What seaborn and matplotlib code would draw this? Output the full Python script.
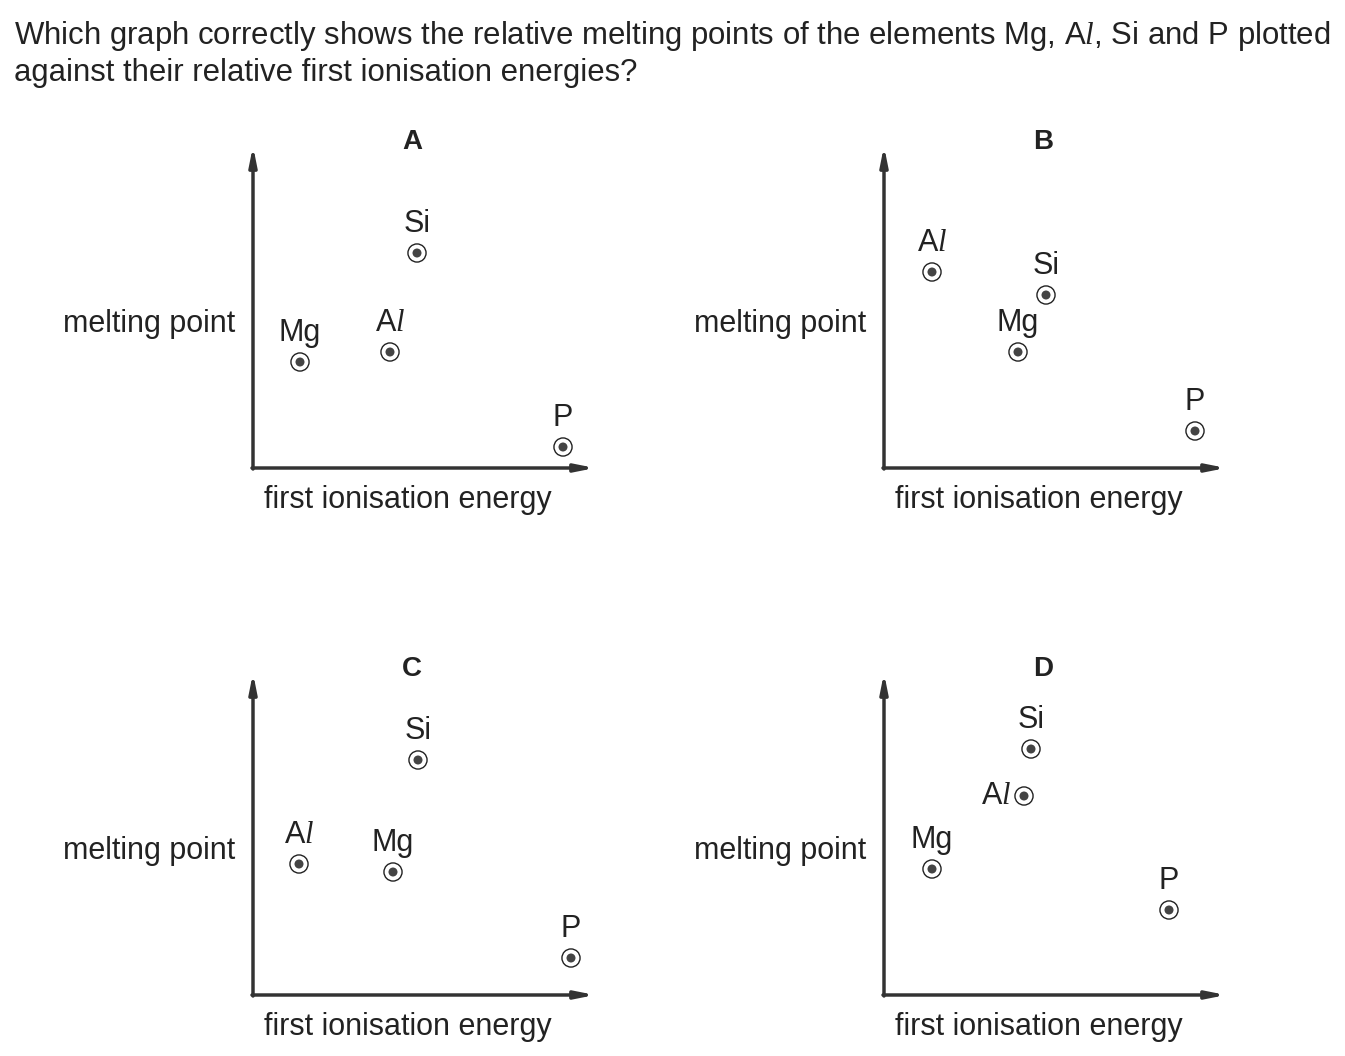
import matplotlib
matplotlib.use("Agg")
import matplotlib.pyplot as plt
import seaborn as sns
import pandas as pd

sns.set_style("white")
plt.rcParams['font.family'] = ['Liberation Sans', 'DejaVu Sans']
plt.rcParams['mathtext.fontset'] = 'custom'
plt.rcParams['mathtext.it'] = 'Liberation Serif:italic'
plt.rcParams['mathtext.rm'] = 'Liberation Sans'

# relative positions (arbitrary units)
elements = ['Mg', 'A$\\mathit{l}$', 'Si', 'P']
panels = ['A', 'B', 'C', 'D']
ie_A = [47, 137, 164, 310]
mp_A = [106, 116, 215, 21]
ie_B = [134, 48, 162, 311]
mp_B = [116, 196, 173, 37]
ie_C = [140, 46, 165, 318]
mp_C = [123, 131, 235, 37]
ie_D = [48, 140, 147, 285]
mp_D = [126, 199, 246, 85]

ie_all = [ie_A, ie_B, ie_C, ie_D]
mp_all = [mp_A, mp_B, mp_C, mp_D]

W, H = 1345, 1056
fig = plt.figure(figsize=(W / 100, H / 100), dpi=100)
col = '#222222'
fs = 22

fig.text(14 / W, 1 - 36 / H,
         'Which graph correctly shows the relative melting points of the elements Mg, A$\\mathit{l}$, Si and P plotted',
         fontsize=22.4, color=col, va='center', ha='left')
fig.text(14 / W, 1 - 73 / H, 'against their relative first ionisation energies?',
         fontsize=22.4, color=col, va='center', ha='left')

origins = [(253, 468), (884, 468), (253, 995), (884, 995)]
xw, yh = 340, 320

for name, (ox, oy), ie, mp in zip(panels, origins, ie_all, mp_all):
    ax = fig.add_axes([ox / W, 1 - oy / H, xw / W, yh / H])
    ax.set_xlim(0, xw)
    ax.set_ylim(0, yh)
    ax.axis('off')
    df = pd.DataFrame({'ie': ie, 'mp': mp, 'el': elements})
    sns.scatterplot(data=df, x='ie', y='mp', ax=ax, s=170, facecolor='none',
                    edgecolor=col, linewidth=1.0, legend=False, clip_on=False)
    sns.scatterplot(data=df, x='ie', y='mp', ax=ax, s=42, color='#444444',
                    edgecolor='none', legend=False, clip_on=False)
    for _, r in df.iterrows():
        if name == 'D' and r['el'].startswith('A'):
            off = (-20, 0)
        else:
            off = (0, 21)
        ax.annotate(r['el'], (r['ie'], r['mp']), xytext=off, textcoords='offset points',
                    ha='center', va='center', fontsize=fs, color=col)
    # axis arrows
    ax.annotate('', xy=(0, 322), xytext=(0, -1), xycoords='data',
                arrowprops=dict(arrowstyle='-|>,head_length=1.1,head_width=0.22',
                                lw=2.5, color='#333333', shrinkA=0, shrinkB=0),
                annotation_clip=False)
    ax.annotate('', xy=(342, 0), xytext=(-1, 0), xycoords='data',
                arrowprops=dict(arrowstyle='-|>,head_length=1.1,head_width=0.22',
                                lw=2.5, color='#333333', shrinkA=0, shrinkB=0),
                annotation_clip=False)
    fig.text((ox + 159) / W, 1 - (oy - 326) / H, name, fontsize=20, fontweight='bold',
             color=col, ha='center', va='center')
    fig.text((ox - 18) / W, 1 - (oy - 144) / H, 'melting point', fontsize=fs,
             color=col, ha='right', va='center')
    fig.text((ox + 155) / W, 1 - (oy + 32) / H, 'first ionisation energy', fontsize=fs,
             color=col, ha='center', va='center')

fig.savefig('out.png', dpi=100, facecolor='white')
